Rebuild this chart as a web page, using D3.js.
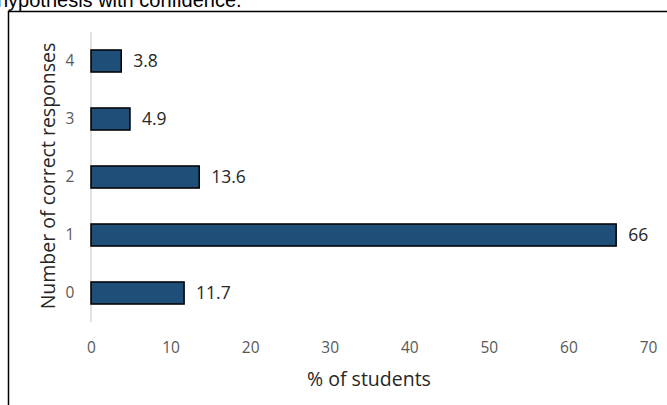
<!DOCTYPE html>
<html><head><meta charset="utf-8">
<script src="https://cdn.jsdelivr.net/npm/d3@7"></script>
<style>html,body{margin:0;padding:0;background:#fff;}svg{display:block;}</style>
</head><body>
<svg id="c" width="667" height="405"></svg>
<script>
const categories = ["0", "1", "2", "3", "4"];
const values = [11.7, 66, 13.6, 4.9, 3.8];
const valueLabels = ["11.7", "66", "13.6", "4.9", "3.8"];
const xTicks = [0, 10, 20, 30, 40, 50, 60, 70];
const xTitle = "% of students";
const yTitle = "Number of correct responses";
const captionText = "hypothesis with confidence.";

const svg = d3.select("#c");
const font = "Open Sans, sans-serif";

// caption fragment at top
svg.append("text").attr("x", -3).attr("y", 7)
  .attr("font-family", "Liberation Sans, Arial, sans-serif").attr("font-size", 20)
  .attr("fill", "#000").text(captionText);

// frame
svg.append("path").attr("d", "M8.5,405 V11.5 H667")
  .attr("fill", "none").attr("stroke", "#000").attr("stroke-width", 1.5);

const x = d3.scaleLinear().domain([0, 70]).range([91, 648]);
const y = d3.scaleBand().domain(categories.slice().reverse()).range([32, 322]).paddingInner(0.62).paddingOuter(0.31);

// y axis line
svg.append("line").attr("x1", x(0)).attr("x2", x(0)).attr("y1", 32).attr("y2", 322)
  .attr("stroke", "#d9d9d9").attr("stroke-width", 1.5);

// bars
svg.append("g").selectAll("rect").data(categories).join("rect")
  .attr("x", x(0))
  .attr("y", (d) => y(d))
  .attr("width", (d, i) => x(values[i]) - x(0))
  .attr("height", y.bandwidth())
  .attr("fill", "#1f4e79").attr("stroke", "#000").attr("stroke-width", 1.5);

// value labels
svg.append("g").selectAll("text").data(categories).join("text")
  .attr("x", (d, i) => x(values[i]) + 12)
  .attr("y", (d) => y(d) + y.bandwidth() / 2)
  .attr("dy", "0.35em")
  .attr("font-family", font).attr("font-size", 17.5).attr("fill", "#262626")
  .text((d, i) => valueLabels[i]);

// y tick labels
const yAxis = d3.axisLeft(y).tickSize(0).tickPadding(0);
const gy = svg.append("g").attr("transform", "translate(76,0)").call(yAxis);
gy.select(".domain").remove();
gy.selectAll("text").attr("font-family", font).attr("font-size", 15.5).attr("fill", "#595959")
  .attr("text-anchor", "middle").attr("x", -6);

// x tick labels
const xAxis = d3.axisBottom(x).tickValues(xTicks).tickSize(0).tickPadding(0);
const gx = svg.append("g").attr("transform", "translate(0,342)").call(xAxis);
gx.select(".domain").remove();
gx.selectAll("text").attr("font-family", font).attr("font-size", 15.5).attr("fill", "#595959");

// titles
svg.append("text").attr("x", 369).attr("y", 386).attr("text-anchor", "middle")
  .attr("font-family", font).attr("font-size", 19.5).attr("fill", "#262626").text(xTitle);
svg.append("text").attr("transform", "translate(55,176) rotate(-90)").attr("text-anchor", "middle")
  .attr("font-family", font).attr("font-size", 19.5).attr("fill", "#262626").text(yTitle);
</script>
</body></html>
